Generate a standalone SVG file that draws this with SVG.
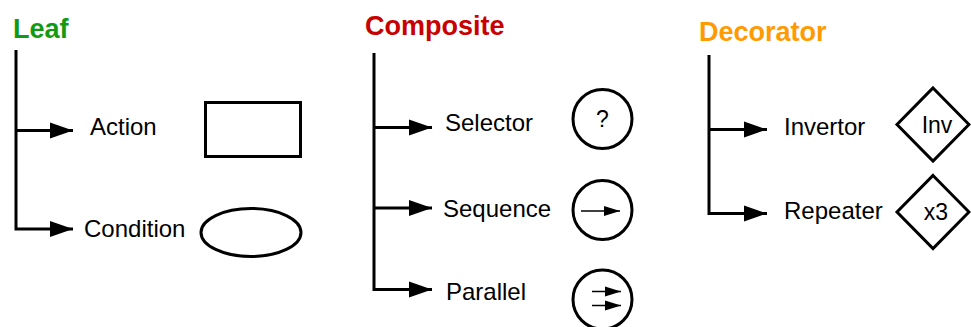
<svg xmlns="http://www.w3.org/2000/svg" width="971" height="327" viewBox="0 0 971 327">
  <defs>
    <style>
      .title { font-family: "Liberation Sans", Arial, sans-serif; font-weight: bold; font-size: 27px; }
      .label { font-family: "Liberation Sans", Arial, sans-serif; font-size: 24px; fill: #000; }
      .sym { font-family: "Liberation Sans", Arial, sans-serif; font-size: 23px; fill: #000; text-anchor: middle; }
      .wire { fill: none; stroke: #000; stroke-width: 3; marker-end: url(#head); }
      .shape { fill: #fff; stroke: #000; stroke-width: 3; }
      .thin { fill: none; stroke: #000; stroke-width: 1.5; marker-end: url(#small); }
    </style>
    <marker id="head" markerUnits="userSpaceOnUse" markerWidth="24" markerHeight="17" refX="23" refY="8" orient="auto" overflow="visible">
      <path d="M0,0 L23,8 L0,16 Z" fill="#000"/>
    </marker>
    <marker id="small" markerUnits="userSpaceOnUse" markerWidth="17" markerHeight="11" refX="16" refY="5" orient="auto" overflow="visible">
      <path d="M0,0 L16,5 L0,10 Z" fill="#000"/>
    </marker>
  </defs>

  <!-- category titles -->
  <text class="title" x="13" y="38" fill="#129a12">Leaf</text>
  <text class="title" x="365" y="35" fill="#c80000">Composite</text>
  <text class="title" x="699" y="41" fill="#ff9a00">Decorator</text>

  <!-- tree connectors -->
  <g id="connectors">
    <path class="wire" d="M16,50 V229 H73"/>
    <path class="wire" d="M16,130.5 H73"/>
    <path class="wire" d="M374,53 V289.5 H432"/>
    <path class="wire" d="M374,127.5 H432"/>
    <path class="wire" d="M374,208 H432"/>
    <path class="wire" d="M709,55 V213.5 H767"/>
    <path class="wire" d="M709,129.5 H767"/>
  </g>

  <!-- leaf nodes -->
  <g id="action">
    <text class="label" x="90" y="135">Action</text>
    <rect class="shape" x="205.5" y="102.5" width="95" height="54"/>
  </g>
  <g id="condition">
    <text class="label" x="84" y="237">Condition</text>
    <ellipse class="shape" cx="251" cy="232.5" rx="50" ry="24"/>
  </g>

  <!-- composite nodes -->
  <g id="selector">
    <text class="label" x="445" y="131">Selector</text>
    <circle class="shape" cx="602.5" cy="119" r="29.5"/>
    <text class="sym" x="602.5" y="127">?</text>
  </g>
  <g id="sequence">
    <text class="label" x="443" y="217">Sequence</text>
    <circle class="shape" cx="602.5" cy="210" r="29.5"/>
    <path class="thin" d="M581,211 H620"/>
  </g>
  <g id="parallel">
    <text class="label" x="446" y="300">Parallel</text>
    <circle class="shape" cx="602.5" cy="299.5" r="29.5"/>
    <path class="thin" d="M592,291.5 H621"/>
    <path class="thin" d="M592,305.5 H621"/>
  </g>

  <!-- decorator nodes -->
  <g id="invertor">
    <text class="label" x="784" y="135">Invertor</text>
    <polygon class="shape" points="933,88 969,124.5 933,161 897,124.5"/>
    <text class="sym" x="937" y="133" font-size="24">Inv</text>
  </g>
  <g id="repeater">
    <text class="label" x="784" y="219">Repeater</text>
    <polygon class="shape" points="933,175.5 969,212 933,248.5 897,212"/>
    <text class="sym" x="936" y="220" font-size="24">x3</text>
  </g>
</svg>
